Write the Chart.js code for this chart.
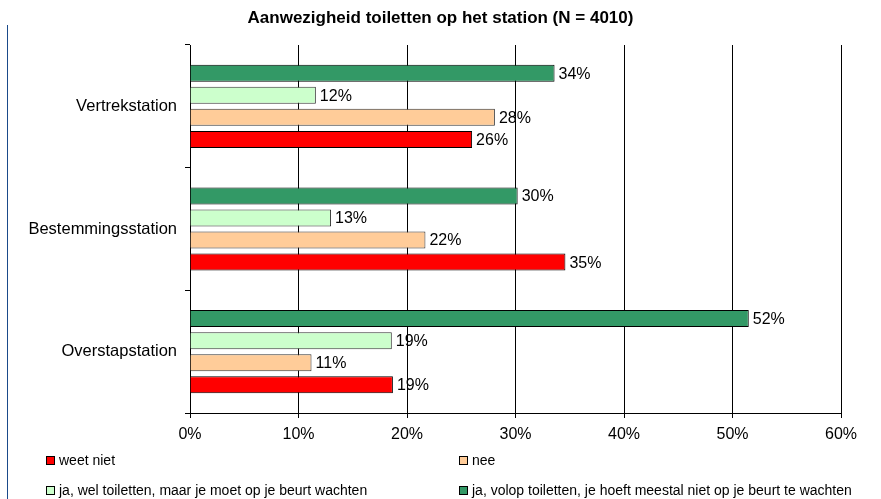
<!DOCTYPE html>
<html>
<head>
<meta charset="utf-8">
<script src="https://cdn.jsdelivr.net/npm/chart.js@4"></script>
<style>
  body { margin: 0; background: #fff; font-family: "Liberation Sans", Arial, sans-serif; }
  #wrap { position: relative; width: 881px; height: 499px; }
  #edge { position: absolute; left: 7px; top: 25px; width: 1px; height: 474px; background: #1a4a8a; }
  #title { position: absolute; left: 0; top: 8px; width: 881px; text-align: center; font-size: 17px; line-height: 20px; font-weight: bold; color: #000; }
  .lg { position: absolute; font-size: 14px; line-height: 16px; color: #000; white-space: nowrap; }
  .lg span { display: inline-block; width: 7px; height: 7px; border: 1px solid #000; margin-right: 4px; vertical-align: 0px; }
</style>
</head>
<body>
<div id="wrap">
  <canvas id="chart" width="881" height="499"></canvas>
  <div id="title">Aanwezigheid toiletten op het station (N = 4010)</div>
  <div id="edge"></div>
</div>
<script>
var categories = ['Vertrekstation', 'Bestemmingsstation', 'Overstapstation'];
var xTicks = [0, 10, 20, 30, 40, 50, 60];

// percentages per station
var volop = [33.6, 30.2, 51.5];
var wel = [11.6, 13.0, 18.6];
var nee = [28.1, 21.7, 11.2];
var weetNiet = [26.0, 34.6, 18.7];

var names = {
  weetNiet: 'weet niet',
  nee: 'nee',
  wel: 'ja, wel toiletten, maar je moet op je beurt wachten',
  volop: 'ja, volop toiletten, je hoeft meestal niet op je beurt te wachten'
};
var colors = { weetNiet: '#ff0000', nee: '#ffcc99', wel: '#ccffcc', volop: '#339966' };
var borders = { weetNiet: '#000', nee: '#333', wel: '#333', volop: '#000' };

var font = "'Liberation Sans', Arial, sans-serif";

// top to bottom inside each group
var order = [['volop', volop], ['wel', wel], ['nee', nee], ['weetNiet', weetNiet]];
var datasets = order.map(function(o) {
  return {
    label: names[o[0]],
    data: o[1],
    backgroundColor: colors[o[0]],
    borderColor: borders[o[0]],
    borderWidth: 1,
    categoryPercentage: 0.72,
    barPercentage: 0.77
  };
});

//value labels at the end of each bar
var barLabels = {
  id: 'barLabels',
  afterDatasetsDraw: function(chart) {
    var ctx = chart.ctx;
    ctx.save();
    ctx.font = '16px ' + font;
    ctx.fillStyle = '#000';
    ctx.textBaseline = 'middle';
    chart.data.datasets.forEach(function(ds, i) {
      chart.getDatasetMeta(i).data.forEach(function(bar, j) {
        ctx.fillText(Math.round(ds.data[j]) + '%', bar.x + 4, bar.y + 1);
      });
    });
    ctx.restore();
  }
};

new Chart(document.getElementById('chart'), {
  type: 'bar',
  data: { labels: categories, datasets: datasets },
  plugins: [barLabels],
  options: {
    indexAxis: 'y',
    responsive: false,
    animation: false,
    layout: { padding: { left: 0, right: 40, top: 45, bottom: 0 } },
    plugins: {
      legend: { display: false },
      tooltip: { enabled: false },
      title: { display: false }
    },
    scales: {
      x: {
        min: 0, max: 60,
        afterFit: function(s) { s.height = 86; },
        afterBuildTicks: function(s) { s.ticks = xTicks.map(function(v) { return { value: v }; }); },
        border: { color: '#000', width: 1 },
        grid: { color: '#000', lineWidth: 1, tickLength: 5, drawOnChartArea: true },
        ticks: {
          color: '#000',
          padding: 7,
          font: { family: font, size: 16 },
          callback: function(v) { return v + '%'; }
        }
      },
      y: {
        afterFit: function(s) { s.width = 190; },
        border: { color: '#000', width: 1 },
        grid: { color: '#000', drawOnChartArea: false, tickLength: 5 },
        ticks: { color: '#000', padding: 8, font: { family: font, size: 16.5 } }
      }
    }
  }
});

// legend in two columns
var legendPos = [['weetNiet', 46, 452], ['nee', 459, 452], ['wel', 46, 482], ['volop', 459, 482]];
var wrap = document.getElementById('wrap');
legendPos.forEach(function(p) {
  var d = document.createElement('div');
  d.className = 'lg';
  d.style.left = p[1] + 'px';
  d.style.top = p[2] + 'px';
  d.innerHTML = '<span style="background:' + colors[p[0]] + '"></span>' + names[p[0]];
  wrap.appendChild(d);
});
</script>
</body>
</html>
